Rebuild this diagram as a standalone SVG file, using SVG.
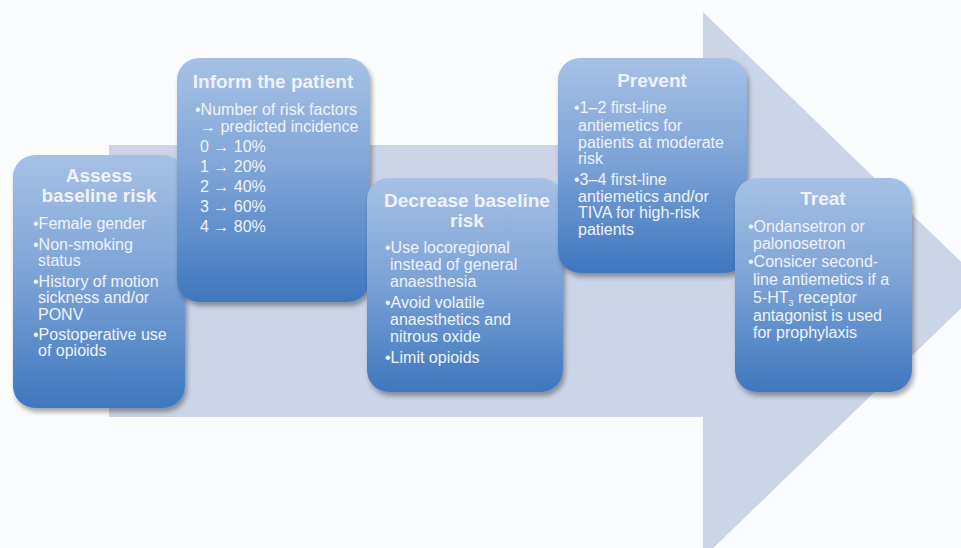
<svg xmlns="http://www.w3.org/2000/svg" width="961" height="548" viewBox="0 0 961 548">
<defs>
<linearGradient id="boxg" x1="0" y1="0" x2="0" y2="1">
<stop offset="0" stop-color="#a6c1e6"/>
<stop offset="0.45" stop-color="#7fa5d7"/>
<stop offset="1" stop-color="#3f77bf"/>
</linearGradient>
<filter id="sh" x="-10%" y="-10%" width="125%" height="125%">
<feGaussianBlur in="SourceAlpha" stdDeviation="2.5"/>
<feOffset dx="2" dy="4" result="b"/>
<feComponentTransfer><feFuncA type="linear" slope="0.35"/></feComponentTransfer>
<feMerge><feMergeNode/><feMergeNode in="SourceGraphic"/></feMerge>
</filter>
</defs>
<style>
.box{fill:url(#boxg);filter:url(#sh);}
.t{font-family:"Liberation Sans",Arial,sans-serif;fill:#eef3fb;}
.ttl{font-size:19px;font-weight:bold;text-anchor:middle;}
.bd{font-size:16px;}
</style>
<rect width="961" height="548" fill="#fbfcfe"/>
<g id="connectors">
<polygon points="109,145 703,145 703,12 985,285 703,558 703,417 109,417" fill="#cbd5e7"/>
</g>
<g id="assess">
<rect class="box" x="13" y="155" width="172" height="253" rx="22"/>
<text class="t ttl" x="99" y="182">Assess</text>
<text class="t ttl" x="99" y="202">baseline risk</text>
<text class="t bd"><tspan x="33" y="229">•Female gender</tspan><tspan x="33" y="250">•Non-smoking</tspan><tspan x="38" y="266">status</tspan><tspan x="33" y="287">•History of motion</tspan><tspan x="38" y="303">sickness and/or</tspan><tspan x="38" y="320">PONV</tspan><tspan x="33" y="340">•Postoperative use</tspan><tspan x="38" y="356">of opioids</tspan></text>
</g>
<g id="inform">
<rect class="box" x="177" y="58" width="193" height="244" rx="22"/>
<text class="t ttl" x="273" y="88">Inform the patient</text>
<text class="t bd"><tspan x="195" y="115">•Number of risk factors</tspan><tspan x="200" y="132">→ predicted incidence</tspan><tspan x="200" y="152">0 → 10%</tspan><tspan x="200" y="172">1 → 20%</tspan><tspan x="200" y="192">2 → 40%</tspan><tspan x="200" y="212">3 → 60%</tspan><tspan x="200" y="232">4 → 80%</tspan></text>
</g>
<g id="decrease">
<rect class="box" x="367" y="178" width="196" height="214" rx="22"/>
<text class="t ttl" x="467" y="207">Decrease baseline</text>
<text class="t ttl" x="467" y="227">risk</text>
<text class="t bd"><tspan x="385" y="253">•Use locoregional</tspan><tspan x="390" y="270">instead of general</tspan><tspan x="390" y="287">anaesthesia</tspan><tspan x="385" y="308">•Avoid volatile</tspan><tspan x="390" y="325">anaesthetics and</tspan><tspan x="390" y="342">nitrous oxide</tspan><tspan x="385" y="363">•Limit opioids</tspan></text>
</g>
<g id="prevent">
<rect class="box" x="558" y="58" width="189" height="215" rx="22"/>
<text class="t ttl" x="652" y="87">Prevent</text>
<text class="t bd"><tspan x="574" y="113">•1–2 first-line</tspan><tspan x="578" y="131">antiemetics for</tspan><tspan x="578" y="148">patients at moderate</tspan><tspan x="578" y="164">risk</tspan><tspan x="574" y="185">•3–4 first-line</tspan><tspan x="578" y="202">antiemetics and/or</tspan><tspan x="578" y="218">TIVA for high-risk</tspan><tspan x="578" y="235">patients</tspan></text>
</g>
<g id="treat">
<rect class="box" x="735" y="178" width="177" height="214" rx="22"/>
<text class="t ttl" x="823" y="205">Treat</text>
<text class="t bd"><tspan x="748" y="232">•Ondansetron or</tspan><tspan x="753" y="249">palonosetron</tspan><tspan x="748" y="267">•Consicer second-</tspan><tspan x="753" y="285">line antiemetics if a</tspan><tspan x="753" y="303">5-HT</tspan><tspan font-size="9" dy="3">3</tspan><tspan dy="-3"> receptor</tspan><tspan x="753" y="321">antagonist is used</tspan><tspan x="753" y="338">for prophylaxis</tspan></text>
</g>
</svg>
